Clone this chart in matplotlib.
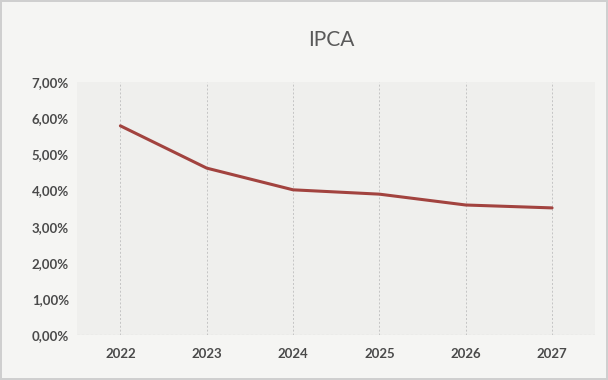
import matplotlib
matplotlib.use("Agg")
import matplotlib.pyplot as plt
from matplotlib.ticker import FuncFormatter

years = ["2022", "2023", "2024", "2025", "2026", "2027"]
ipca = [5.79, 4.62, 4.02, 3.90, 3.60, 3.52]  # % a.a.
y_ticks = [0, 1, 2, 3, 4, 5, 6, 7]

plt.rcParams["font.family"] = ["Lato", "DejaVu Sans"]

fig = plt.figure(figsize=(6.08, 3.8), dpi=100, facecolor="#f5f5f3")
fig.patch.set_edgecolor("#cfcfcf")
fig.patch.set_linewidth(1.5)
ax = fig.add_axes([0.127, 0.118, 0.852, 0.666])
ax.set_facecolor("#efefed")

x = list(range(len(years)))
ax.plot(x, ipca, color="#a2433f", linewidth=2.2, solid_capstyle="round")

ax.set_xlim(-0.5, len(years) - 0.5)
ax.set_ylim(0, 7)
ax.set_xticks(x)
ax.set_xticklabels(years)
ax.set_yticks(y_ticks)
ax.yaxis.set_major_formatter(FuncFormatter(lambda v, p: f"{v:.2f}%".replace(".", ",")))

for xi in x:
    ax.axvline(xi, color="#c4c4c4", linewidth=0.7, linestyle=(0, (2, 2)), zorder=0)
ax.axhline(0, color="#b0b0b0", linewidth=0.8, linestyle=(0, (2, 2)))

for s in ax.spines.values():
    s.set_visible(False)
ax.tick_params(length=0, colors="#4a4a4a", labelsize=9.5)
ax.tick_params(axis="x", pad=9)
ax.tick_params(axis="y", pad=6)
for lab in ax.get_xticklabels() + ax.get_yticklabels():
    lab.set_fontweight("bold")

fig.text(0.545, 0.895, "IPCA", ha="center", va="center", fontsize=15, color="#5a5a5a")

fig.savefig("out.png", dpi=100, facecolor=fig.get_facecolor(), edgecolor=fig.get_edgecolor())
